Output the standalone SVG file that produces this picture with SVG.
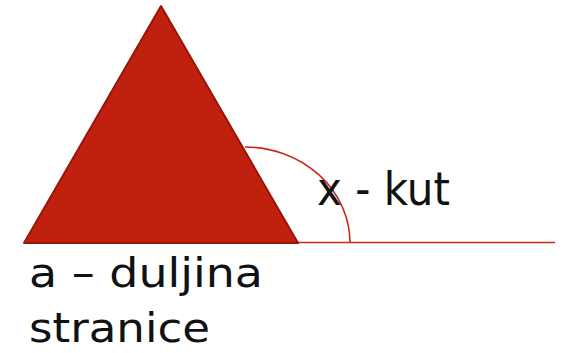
<svg xmlns="http://www.w3.org/2000/svg" width="567" height="353" viewBox="0 0 567 353">
<style>
.lbl{font-family:"DejaVu Sans","Liberation Sans",sans-serif;fill:#111;font-weight:normal}
.ln{fill:none;stroke:#C8281A;stroke-width:1.6}
</style>
<rect width="567" height="353" fill="#fff"/>
<g id="connectors">
<path class="ln" d="M298 242.5 H555"/>
<path class="ln" d="M245 147 A105 96 0 0 1 350 242.5"/>
</g>
<g id="triangle">
<polygon points="161,6 24,243 298,243" fill="#C0200E" stroke="#981608" stroke-width="2" stroke-linejoin="round"/>
</g>
<g id="angle-label">
<text class="lbl" x="317" y="205" font-size="47" textLength="133" lengthAdjust="spacingAndGlyphs">x - kut</text>
</g>
<g id="side-label">
<text class="lbl" x="29" y="287" font-size="41" textLength="234" lengthAdjust="spacingAndGlyphs">a – duljina</text>
<text class="lbl" x="29" y="342" font-size="41" textLength="181" lengthAdjust="spacingAndGlyphs">stranice</text>
</g>
</svg>
